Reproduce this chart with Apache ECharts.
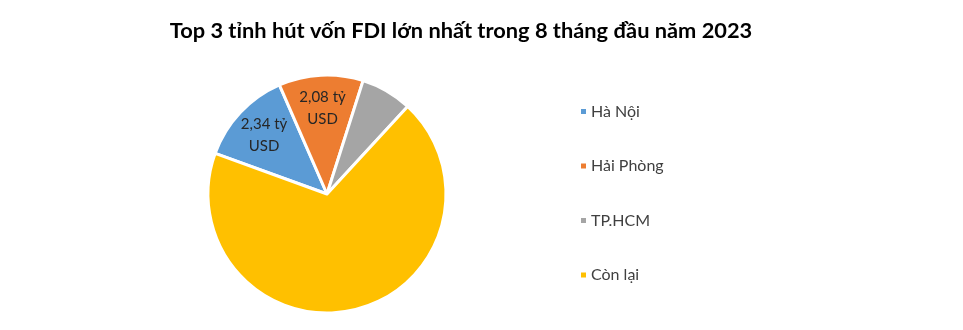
<!DOCTYPE html>
<html><head><meta charset="utf-8">
<script src="https://cdn.jsdelivr.net/npm/echarts@6/dist/echarts.min.js"></script>
<style>html,body{margin:0;padding:0;background:#fff}#c{width:963px;height:330px}</style>
</head><body><div id="c"></div>
<script>
var titleText = 'Top 3 tỉnh hút vốn FDI lớn nhất trong 8 tháng đầu năm 2023';
var categories = ['Hà Nội', 'Hải Phòng', 'TP.HCM', 'Còn lại'];
var values = [2.34, 2.08, 1.26, 12.47];
var sliceLabels = ['2,34 tỷ\nUSD', '2,08 tỷ\nUSD', '', ''];
var colors = ['#5B9BD5', '#ED7D31', '#A5A5A5', '#FFC000'];

var chart = echarts.init(document.getElementById('c'));
var center = [327, 194];
var R = 119;
chart.setOption({
  animation: false,
  color: colors,
  title: {
    text: titleText, left: 456, top: 15, textAlign: 'center',
    textStyle: {fontFamily: 'Lato', fontWeight: 'bold', fontSize: 21.8, color: '#000'}
  },
  legend: {
    orient: 'vertical', left: 574, top: 98,
    itemWidth: 7, itemHeight: 7, itemGap: 37.5, icon: 'rect',
    data: categories,
    textStyle: {fontFamily: 'Lato', fontSize: 16, color: '#404040', lineHeight: 17, padding: [0,0,0,-1]}
  },
  series: [{
    type: 'pie', center: center, radius: R, startAngle: 160, clockwise: true,
    itemStyle: {borderColor: '#fff', borderWidth: 3},
    label: {show: false}, labelLine: {show: false},
    data: categories.map(function (c, i) { return {name: c, value: values[i]}; })
  }, {
    type: 'pie', center: center, radius: [R * 0.4, R], startAngle: 160, clockwise: true,
    silent: true,
    itemStyle: {color: 'rgba(0,0,0,0)'},
    label: {
      show: true, position: 'inside',
      formatter: function (p) { return sliceLabels[p.dataIndex]; },
      fontFamily: 'Lato', fontSize: 15, color: '#262626', lineHeight: 22
    },
    labelLine: {show: false},
    data: categories.map(function (c, i) { return {name: c, value: values[i]}; })
  }]
});
</script></body></html>
